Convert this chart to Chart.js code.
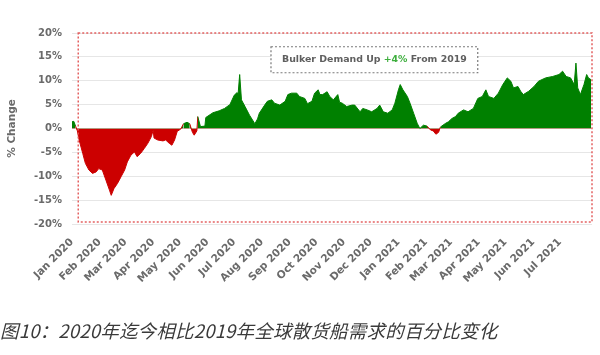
<!DOCTYPE html>
<html>
<head>
<meta charset="utf-8">
<script src="https://cdn.jsdelivr.net/npm/chart.js@4.4.1/dist/chart.umd.min.js"></script>
<style>
  html, body { margin: 0; padding: 0; background: #ffffff; }
  #wrap { position: relative; width: 600px; height: 355px; }
  #caption {
    position: absolute; left: 0px; top: 317px;
    font-family: "Noto Sans CJK SC", "Noto Sans", sans-serif;
    font-style: italic; font-size: 18.5px; color: #3a3a3a; white-space: nowrap;
    letter-spacing: 0.2px;
  }
</style>
</head>
<body>
<div id="wrap">
  <canvas id="c" width="600" height="355"></canvas>
  <div id="caption">图10：2020年迄今相比2019年全球散货船需求的百分比变化</div>
</div>
<script>
// ---- data (day offsets from 1 Jan 2020, % change vs 2019) ----
const dayOffsets = [0,2,4,6,8,12,15,19,23,27,30,34,38,42,44,47,51,55,59,62,66,70,73,77,81,85,89,91,92,96,102,105,109,112,115,118,122,125,129,132,135,137,140,141,144,149,150,158,165,171,177,182,185,186,188,190,194,199,205,208,210,216,219,224,227,233,239,242,246,252,255,261,264,269,272,276,278,281,286,289,293,298,300,303,308,314,317,323,326,331,336,342,345,349,354,359,362,366,368,371,376,379,383,387,390,394,398,402,405,408,411,413,419,422,426,430,433,439,444,450,455,460,464,467,473,478,483,488,492,495,500,503,506,512,518,523,531,539,546,550,554,559,563,565,567,570,574,577,579,582];
const pctChange = [1.4,1.5,0.5,-0.5,-2.4,-5.2,-7.3,-8.7,-9.4,-9.1,-8.4,-8.7,-10.8,-12.9,-14.0,-12.6,-11.5,-10.1,-8.7,-7.0,-5.6,-4.9,-5.9,-5.2,-4.2,-3.1,-1.7,-0.3,-2.0,-2.4,-2.6,-2.4,-3.1,-3.5,-2.4,-0.6,-0.1,1.0,1.3,1.0,-0.8,-1.4,-0.5,2.5,0.4,0.5,2.3,3.3,3.7,4.2,5.0,7.0,7.5,6.7,11.3,6.0,4.6,2.8,1.0,2.0,3.2,4.9,5.7,6.0,5.3,4.9,5.7,7.1,7.4,7.4,6.7,6.3,5.2,5.7,7.4,8.1,7.1,7.1,7.7,6.7,6.0,7.1,5.5,5.3,4.6,4.9,4.9,3.5,4.2,3.9,3.5,4.2,4.9,3.5,3.2,3.9,5.3,8.1,9.2,8.1,6.7,5.3,3.2,1.1,0.0,0.7,0.5,-0.3,-0.5,-1.2,-0.8,0.3,1.1,1.4,2.1,2.5,3.2,3.9,3.5,4.2,6.3,6.7,8.1,6.7,6.3,7.4,9.2,10.6,9.9,8.5,8.8,7.8,7.1,7.8,8.8,9.9,10.6,10.9,11.3,12.0,10.9,10.6,9.2,13.7,8.5,7.1,9.2,11.3,10.6,10.2];
const monthLabels = ["Jan 2020","Feb 2020","Mar 2020","Apr 2020","May 2020","Jun 2020","Jul 2020","Aug 2020","Sep 2020","Oct 2020","Nov 2020","Dec 2020","Jan 2021","Feb 2021","Mar 2021","Apr 2021","May 2021","Jun 2021","Jul 2021"];
const yTickValues = [-20,-15,-10,-5,0,5,10,15,20];
const noteParts = [["Bulker Demand Up ", "#5f5f5f"], ["+4%", "#3dae3d"], [" From 2019", "#5f5f5f"]];
const noteAnchor = { day: 339, pct: 14.4 };

const MONTHS = ["Jan","Feb","Mar","Apr","May","Jun","Jul","Aug","Sep","Oct","Nov","Dec"];
const base = Date.UTC(2020, 0, 1);
const monthDays = monthLabels.map(l => {
  const [m, y] = l.split(" ");
  return (Date.UTC(+y, MONTHS.indexOf(m), 1) - base) / 86400000;
});

const GREEN = "rgb(0,128,0)";
const RED = "rgb(204,0,0)";
const FONT = "DejaVu Sans";

const decor = {
  id: "decor",
  afterDatasetsDraw(chart) {
    const { ctx, chartArea, scales } = chart;
    const xs = scales.x, ys = scales.y;
    ctx.save();
    // red dashed frame
    ctx.setLineDash([2, 2]);
    ctx.lineWidth = 1.5;
    ctx.strokeStyle = "rgba(225,80,80,0.9)";
    const fx0 = xs.getPixelForValue(7);
    const fy0 = ys.getPixelForValue(20);
    const fy1 = chartArea.bottom - 2;
    ctx.strokeRect(fx0, fy0, chartArea.right - fx0, fy1 - fy0);
    // annotation box
    ctx.font = "bold 9.4px " + FONT;
    let total = 0;
    noteParts.forEach(p => total += ctx.measureText(p[0]).width);
    const cx = xs.getPixelForValue(noteAnchor.day);
    const cy = ys.getPixelForValue(noteAnchor.pct);
    const bw = total + 22, bh = 26;
    ctx.fillStyle = "#ffffff";
    ctx.fillRect(cx - bw / 2, cy - bh / 2, bw, bh);
    ctx.setLineDash([2, 2]);
    ctx.lineWidth = 1.2;
    ctx.strokeStyle = "#7a7a7a";
    ctx.strokeRect(cx - bw / 2, cy - bh / 2, bw, bh);
    ctx.setLineDash([]);
    ctx.textBaseline = "middle";
    ctx.textAlign = "left";
    let tx = cx - total / 2;
    noteParts.forEach(p => {
      ctx.fillStyle = p[1];
      ctx.fillText(p[0], tx, cy);
      tx += ctx.measureText(p[0]).width;
    });
    ctx.restore();
  }
};

new Chart(document.getElementById("c"), {
  type: "line",
  data: {
    datasets: [{
      data: dayOffsets.map((d, i) => ({ x: d, y: pctChange[i] })),
      borderWidth: 1,
      pointRadius: 0,
      tension: 0,
      borderColor: GREEN,
      segment: {
        borderColor: c => (c.p0.parsed.y < 0 || c.p1.parsed.y < 0) ? RED : GREEN
      },
      fill: { target: "origin", above: GREEN, below: RED }
    }]
  },
  options: {
    responsive: false,
    animation: false,
    layout: { padding: { top: 33, right: 8, left: 0, bottom: 0 } },
    plugins: { legend: { display: false }, tooltip: { enabled: false } },
    scales: {
      x: {
        type: "linear",
        min: 0,
        max: 583,
        grid: { display: false, drawTicks: false },
        border: { display: false },
        afterBuildTicks: s => { s.ticks = monthDays.map(v => ({ value: v })); },
        afterFit: s => { s.height = 131; },
        ticks: {
          autoSkip: false,
          minRotation: 45,
          maxRotation: 45,
          padding: 12,
          color: "#6a6a6a",
          font: { family: FONT, size: 10.5, weight: "bold" },
          callback: (v, i) => monthLabels[i]
        }
      },
      y: {
        min: -20,
        max: 20,
        afterBuildTicks: s => { s.ticks = yTickValues.map(v => ({ value: v })); },
        afterFit: s => { s.width = 72; },
        grid: { color: "#e6e6e6", drawTicks: false, lineWidth: 1 },
        border: { display: false },
        ticks: {
          padding: 10,
          color: "#6a6a6a",
          font: { family: FONT, size: 10, weight: "bold" },
          callback: v => v + "%"
        },
        title: {
          display: true,
          text: "% Change",
          color: "#6a6a6a",
          font: { family: FONT, size: 10.5, weight: "bold" },
          padding: { top: 6, bottom: 0 }
        }
      }
    }
  },
  plugins: [decor]
});
</script>
</body>
</html>
